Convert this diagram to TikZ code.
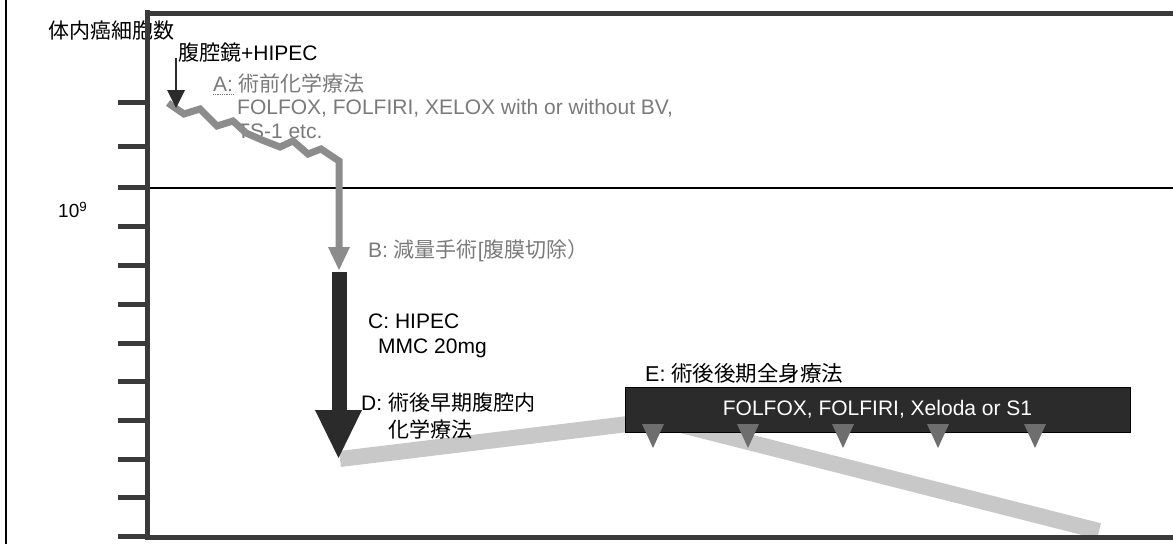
\documentclass[tikz,border=0pt]{standalone}
\usepackage{fontspec}
\setmainfont{Liberation Sans}
\newfontfamily\jp{Noto Sans CJK JP}
\definecolor{axisc}{HTML}{3A3A3A}
\definecolor{darkc}{HTML}{2B2B2B}
\definecolor{zigc}{HTML}{8C8C8C}
\definecolor{bandc}{HTML}{C8C8C8}
\definecolor{triac}{HTML}{6E6E6E}
\definecolor{labgray}{HTML}{7A7A7A}
\tikzset{
  lab/.style={anchor=west, inner sep=0pt, font=\fontsize{21}{24}\selectfont},
  glab/.style={lab, text=labgray},
  axisline/.style={draw=axisc, line width=5pt},
  tick/.style={draw=axisc, line width=5pt},
  band/.style={draw=bandc, line width=16pt},
  zig/.style={draw=zigc, line width=7pt, line join=miter},
}
\begin{document}
\begin{tikzpicture}[x=1pt,y=-1pt]
\useasboundingbox (0,0) rectangle (1173,544);
% outer frame line
\draw[line width=1.5pt] (6,0) -- (6,544);
% labels behind axes
\node[lab] (ylab) at (48,31) {\jp 体内癌細胞数};
\node[lab] (lap) at (178,53) {{\jp 腹腔鏡}+HIPEC};
\node[glab] (labA) at (213,83) {A: {\jp 術前化学療法}};
\draw[labgray, densely dotted, line width=0.8pt] (213,94) -- (233,94);
\node[glab] (labA2) at (237,108) {FOLFOX, FOLFIRI, XELOX with or without BV,};
\node[glab] (labA3) at (237,131) {TS-1 etc.};
\node[lab, font=\fontsize{19}{22}\selectfont] (exp) at (58,210) {10\textsuperscript{9}};
\node[glab] (labB) at (368,251) {B: {\jp 減量手術}[{\jp 腹膜切除）}};
\node[lab] (labC) at (368,321) {C: HIPEC};
\node[lab] (labC2) at (378,348) {MMC 20mg};
\node[lab, font=\fontsize{21.5}{25}\selectfont] (labE) at (645,373) {E: {\jp 術後後期全身療法}};
% bands
\coordinate (b1s) at (340,459);
\coordinate (b1e) at (628,424);
\coordinate (b2s) at (630,412);
\coordinate (b2e) at (1099,531);
\draw[band] (b1s) -- (b1e);
\draw[band] (b2s) -- (b2e);
\node[lab] (labD) at (361,403) {D: {\jp 術後早期腹腔内}};
\node[lab] (labD2) at (388,429) {\jp 化学療法};
% E box
\node[draw=black, fill=darkc, line width=1pt, minimum width=505pt, minimum height=45pt, inner sep=0pt,
      text=white, font=\fontsize{21}{24}\selectfont] (ebox) at (877.5,409.5) {FOLFOX, FOLFIRI, Xeloda or S1};
% triangles
\foreach \x in {653,748,843,938,1035}
  \fill[triac] (\x-11,424) -- (\x+11,424) -- (\x,448) -- cycle;
% horizontal reference line
\draw[line width=1.4pt] (147,188) -- (1173,188);
% zigzag (A) and drop (B)
\coordinate (z0) at (168,103);
\coordinate (zt) at (339,250);
\draw[zig] (z0) -- (184,114) -- (200,109) -- (217,126) -- (233,121) -- (246,133) -- (262,140)
  -- (280,147) -- (293,141) -- (308,154) -- (321,149) -- (339,161) -- (zt);
\fill[zigc] (328,247) -- (350,247) -- (339,270) -- cycle;
% small black arrow
\coordinate (s0) at (176,58);
\coordinate (s1) at (176,92);
\draw[line width=2.5pt, darkc] (s0) -- (s1);
\fill[darkc] (167,90) -- (185,90) -- (176,108) -- cycle;
% big black arrow C
\fill[darkc] (332,272) rectangle (347,411);
\fill[darkc] (315,410) -- (362,410) -- (338.5,458) -- cycle;
% axes
\draw[axisline] (147,10) -- (147,539);
\draw[axisline] (145,13) -- (1173,13);
\draw[axisline] (145,537) -- (1173,537);
\foreach \y in {102,146,187,226,265,304,343,381,420,459,497,536}
  \draw[tick] (118,\y) -- (147,\y);
\end{tikzpicture}
\end{document}
